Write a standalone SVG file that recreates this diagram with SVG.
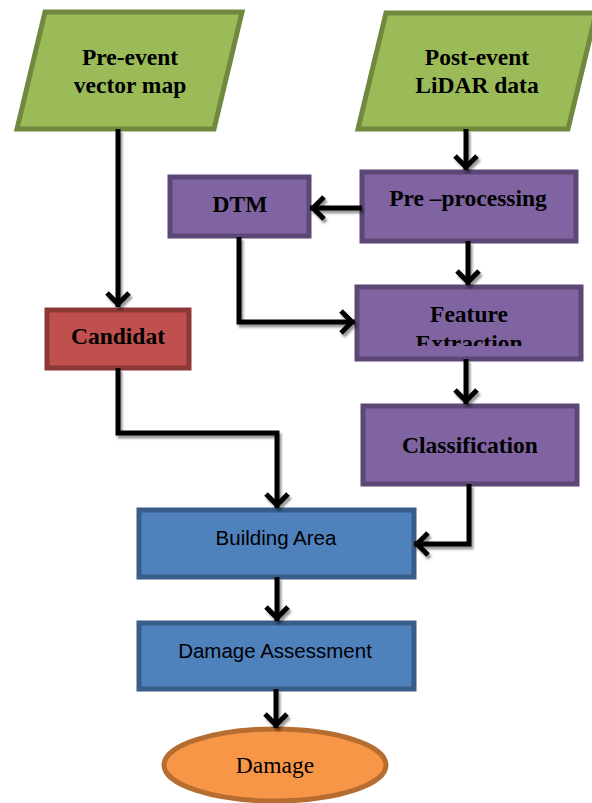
<svg xmlns="http://www.w3.org/2000/svg" width="592" height="803" viewBox="0 0 592 803">
<style>
.green{fill:#9BBB59;stroke:#71893F;stroke-width:5}
.purple{fill:#8064A2;stroke:#5C4776;stroke-width:5}
.red{fill:#C0504D;stroke:#8C3836;stroke-width:5}
.blue{fill:#4F81BD;stroke:#385D8A;stroke-width:5}
.orange{fill:#F79646;stroke:#B66D31;stroke-width:5}
.bs{font-family:"Liberation Serif","Times New Roman",serif;font-weight:bold;font-size:23.5px;fill:#000;text-anchor:middle}
.rs{font-family:"Liberation Serif","Times New Roman",serif;font-size:23.5px;fill:#000;text-anchor:middle}
.ss{font-family:"Liberation Sans",Arial,sans-serif;font-size:20.5px;fill:#000;text-anchor:middle}
.conn{fill:none;stroke:#000;stroke-width:5;marker-end:url(#arr)}
</style>
<defs>
<marker id="arr" markerUnits="userSpaceOnUse" markerWidth="32" markerHeight="32" viewBox="-16 -16 32 32" refX="3" refY="0" orient="auto">
<path d="M-11,-11 L0,0 L-11,11" fill="none" stroke="#000" stroke-width="5"/>
</marker>
<filter id="sh" x="-20%" y="-20%" width="140%" height="140%">
<feDropShadow dx="2" dy="3" stdDeviation="1.2" flood-color="#000" flood-opacity="0.4"/>
</filter>
<clipPath id="fclip"><rect x="355" y="285" width="228" height="61"/></clipPath>
</defs>
<g id="pre-event">
<polygon class="green" points="45,12 242,12 214,129 17,129"/>
<text class="bs" x="130" y="65">Pre-event</text>
<text class="bs" x="130" y="93">vector map</text>
</g>
<g id="post-event">
<polygon class="green" points="386,13 596,13 568,129 358,129"/>
<text class="bs" x="477" y="65">Post-event</text>
<text class="bs" x="477" y="93">LiDAR data</text>
</g>
<g id="preprocessing">
<rect class="purple" x="362" y="172" width="214" height="69"/>
<text class="bs" x="468" y="206">Pre –processing</text>
</g>
<g id="dtm">
<rect class="purple" x="170" y="177" width="139" height="59"/>
<text class="bs" x="240" y="212">DTM</text>
</g>
<g id="feature">
<rect class="purple" x="357" y="287" width="224" height="72"/>
<text class="bs" x="469" y="322">Feature</text>
<text class="bs" x="469" y="351" clip-path="url(#fclip)">Extraction</text>
</g>
<g id="classification">
<rect class="purple" x="363" y="406" width="214" height="78"/>
<text class="bs" x="470" y="453">Classification</text>
</g>
<g id="candidat">
<rect class="red" x="47" y="310" width="142" height="58"/>
<text class="bs" x="118" y="344">Candidat</text>
</g>
<g id="building-area">
<rect class="blue" x="139" y="510" width="275" height="67"/>
<text class="ss" x="276" y="545">Building Area</text>
</g>
<g id="damage-assessment">
<rect class="blue" x="139" y="623" width="275" height="66"/>
<text class="ss" x="275" y="658">Damage Assessment</text>
</g>
<g id="damage">
<ellipse class="orange" cx="275" cy="765" rx="111" ry="36"/>
<text class="rs" x="275" y="773">Damage</text>
</g>
<g id="connectors" filter="url(#sh)">
<path class="conn" d="M118,129 V307"/>
<path class="conn" d="M466,129 V170"/>
<path class="conn" d="M362,208 H310"/>
<path class="conn" d="M468,241 V285"/>
<path class="conn" d="M239,237 V322 H355"/>
<path class="conn" d="M466,359 V404"/>
<path class="conn" d="M118,368 V433 H277 V508"/>
<path class="conn" d="M469,484 V544 H414"/>
<path class="conn" d="M277,577 V621"/>
<path class="conn" d="M276,689 V728"/>
</g>
</svg>
